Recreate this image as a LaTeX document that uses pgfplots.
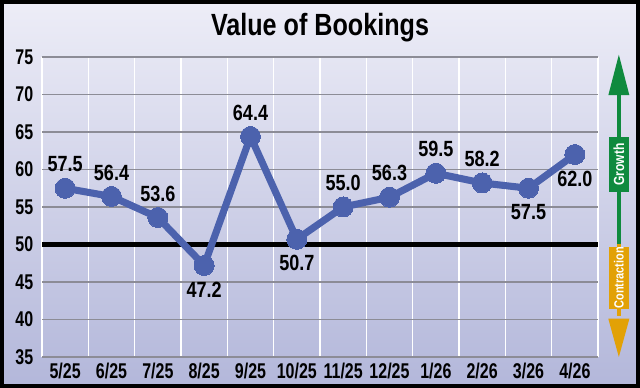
\documentclass[border=0pt]{standalone}
\usepackage{fontspec}
\setmainfont{Liberation Sans}[FakeStretch=0.82]
\newfontfamily\tickfont{Liberation Sans}[FakeStretch=0.75]
\usepackage{pgfplots}
\usepackage{pgfplotstable}
\pgfplotsset{compat=1.18}
\definecolor{linecol}{HTML}{4C62AD}
\definecolor{gridgray}{HTML}{8C8C96}
\definecolor{bgtop}{HTML}{EDEDF7}
\definecolor{bgbot}{HTML}{B3B7DA}
\definecolor{grn}{HTML}{0F8A3E}
\definecolor{org}{HTML}{E2A106}
\pgfplotstableread{
x y pos
0 57.5 1
1 56.4 1
2 53.6 1
3 47.2 -1
4 64.4 1
5 50.7 -1
6 55.0 1
7 56.3 1
8 59.5 1
9 58.2 1
10 57.5 -1
11 62.0 -1
}\bookings
\begin{document}
\begin{tikzpicture}
% frame and background
\shade[top color=bgtop, bottom color=bgbot, draw=black, line width=3pt]
  (1.5pt,1.5pt) rectangle (478.5pt,289.5pt);
\node[font=\bfseries\fontsize{23}{26}\selectfont] at (240pt,270pt) {Value of Bookings};
\begin{axis}[
  at={(31.5pt,23.25pt)}, anchor=south west,
  scale only axis, width=417pt, height=225pt,
  xmin=-0.5, xmax=11.5, ymin=35, ymax=75,
  axis line style={draw=none},
  clip=false,
  xtick={0,...,11},
  xticklabels={5/25,6/25,7/25,8/25,9/25,10/25,11/25,12/25,1/26,2/26,3/26,4/26},
  minor xtick={-0.5,0.5,...,11.5},
  minor x grid style={white, line width=1pt},
  xminorgrids=true,
  ytick={35,40,...,75},
  ymajorgrids=true,
  major y grid style={gridgray, line width=1pt},
  major tick length=0pt, minor tick length=0pt,
  /pgf/number format/assume math mode=true,
  tick label style={font=\tickfont\bfseries\fontsize{16}{17}\selectfont},
  yticklabel style={xshift=-3pt},
  xticklabel style={yshift=-1pt},
]
% 50 threshold line
\addplot[black, line width=3.2pt, forget plot, no marks] coordinates {(-0.5,50) (11.5,50)};
\addplot[linecol, line width=5.3pt, mark=*, mark size=7.5pt,
  mark options={fill=linecol, draw=linecol, line width=0pt},
  nodes near coords,
  point meta=explicit symbolic,
  visualization depends on={\thisrow{pos} \as \lpos},
  every node near coord/.append style={anchor=center, yshift=\lpos*18pt,
     font=\bfseries\fontsize{16.5}{18}\selectfont, text=black}]
  table[x=x, y=y, meta=y] {\bookings};
% growth / contraction indicator
\draw[grn, line width=2.6pt] (axis cs:11.95,70) -- (axis cs:11.95,50.1);
\fill[grn] (axis cs:11.95,75.3) -- ([xshift=-7.9pt]axis cs:11.95,69.9) -- ([xshift=7.9pt]axis cs:11.95,69.9) -- cycle;
\draw[org, line width=2.6pt] (axis cs:11.95,50.1) -- (axis cs:11.95,40.5);
\fill[org] (axis cs:11.95,35) -- ([xshift=-7.9pt]axis cs:11.95,40.1) -- ([xshift=7.9pt]axis cs:11.95,40.1) -- cycle;
\node[fill=grn, text=white, rotate=90, minimum width=41pt, minimum height=15.5pt, inner sep=0pt,
  font=\bfseries\fontsize{11}{12}\selectfont] at (axis cs:11.95,60.65) {Growth};
\node[fill=org, text=white, rotate=90, minimum width=46pt, minimum height=15.5pt, inner sep=0pt,
  font=\bfseries\fontsize{10}{11}\selectfont] at (axis cs:11.95,45.55) {Contraction};
\end{axis}
\end{tikzpicture}
\end{document}
